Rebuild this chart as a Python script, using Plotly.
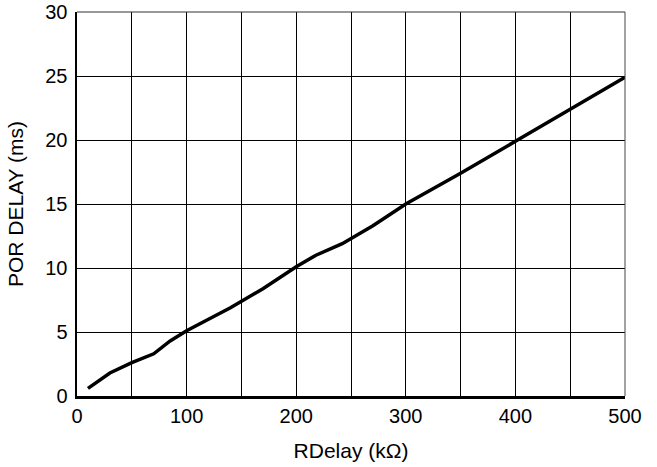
import plotly.graph_objects as go

rdelay_kohm = [10, 30, 50, 70, 85, 100, 140, 170, 200, 218, 242, 270, 300, 350, 400, 450, 500]
por_delay_ms = [0.6, 1.8, 2.6, 3.3, 4.3, 5.1, 6.9, 8.4, 10.1, 11.0, 11.9, 13.3, 15.0, 17.4, 19.9, 22.4, 24.9]

x_ticks = [0, 100, 200, 300, 400, 500]
y_ticks = [0, 5, 10, 15, 20, 25, 30]

FONT = "Liberation Sans, Arial, Helvetica, sans-serif"

fig = go.Figure()
fig.add_trace(go.Scatter(
    x=rdelay_kohm, y=por_delay_ms, mode="lines",
    line=dict(color="black", width=3.5),
    showlegend=False, hoverinfo="skip",
))

fig.update_layout(
    width=657, height=467,
    margin=dict(l=77, r=32, t=12, b=71, autoexpand=False),
    paper_bgcolor="white", plot_bgcolor="white",
    font=dict(family=FONT, size=20, color="black"),
    shapes=[
        dict(type="line", xref="paper", yref="paper", x0=0, x1=1, y0=1, y1=1,
             line=dict(color="#333333", width=1), layer="above"),
        dict(type="line", xref="paper", yref="paper", x0=1, x1=1, y0=0, y1=1,
             line=dict(color="#444444", width=1), layer="above"),
    ],
)

fig.update_xaxes(
    range=[0, 500],
    tickvals=list(range(0, 501, 50)),
    ticktext=[str(v) if v in x_ticks else "" for v in range(0, 501, 50)],
    showgrid=True, gridcolor="black", gridwidth=1,
    showline=True, linecolor="black", linewidth=2.5,
    ticks="", zeroline=False,
    ticklabelstandoff=0,
    tickfont=dict(family=FONT, size=20, color="black"),
    title=dict(text="RDelay (kΩ)", font=dict(family=FONT, size=21, color="black"), standoff=18),
    automargin=False,
)
fig.update_yaxes(
    range=[0, 30],
    tickvals=y_ticks,
    showgrid=True, gridcolor="black", gridwidth=1,
    showline=True, linecolor="black", linewidth=2.5,
    ticks="", zeroline=False,
    ticklabelstandoff=3,
    tickfont=dict(family=FONT, size=20, color="black"),
    title=dict(text="POR DELAY (ms)", font=dict(family=FONT, size=21, color="black"), standoff=16),
    automargin=False,
)

fig.write_html(
    "out.html",
    config={"displayModeBar": False, "staticPlot": True},
    post_script="document.body.style.margin='0px';document.body.style.overflow='hidden';",
)
